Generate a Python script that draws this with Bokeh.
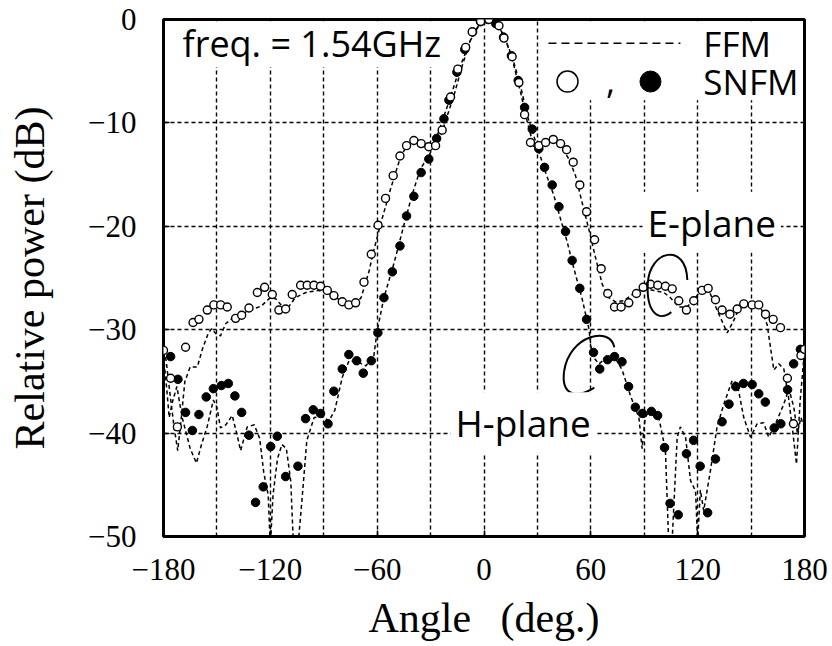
from bokeh.plotting import figure
from bokeh.models import Range1d, FixedTicker, Label
from bokeh.embed import file_html
from bokeh.resources import INLINE

# ---------------- data ----------------
x_tick_values = [-180, -120, -60, 0, 60, 120, 180]
x_tick_labels = ["\u2212180", "\u2212120", "\u221260", "0", "60", "120", "180"]
x_grid_values = [-150, -120, -90, -60, -30, 0, 30, 60, 90, 120, 150]
y_tick_values = [0, -10, -20, -30, -40, -50]
y_tick_labels = ["0", "\u221210", "\u221220", "\u221230", "\u221240", "\u221250"]
y_grid_values = [-10, -20, -30, -40]

# E-plane SNFM (open circles)
e_snfm_x = [-180, -176, -172.2, -167.6, -163.4, -160.1, -155.4, -151.7, -147.9, -144.2,
            -139.5, -136.1, -132, -127.3, -123.2, -118.9, -115.2, -111.4, -107.7, -103,
            -99.3, -95.5, -91.8, -88, -84.3, -79.6, -75.9, -72.1, -67.4, -63.3,
            -59.5, -55.3, -51, -47.2, -43.5, -39.4, -35.3, -31, -27.2, -23.5,
            -18.8, -14.7, -10.3, -6.6, -1.9, 2.75, 8.4, 11.2, 15.8, 19.6,
            22.8, 26.1, 30.8, 34.6, 38.9, 43, 46.4, 50.1, 53.8, 57.6,
            62.1, 65.8, 69.5, 73.3, 77, 81.3, 85.6, 89.4, 93.5, 97.6,
            101.9, 105.7, 109.4, 113.7, 117.8, 122.5, 125.9, 130, 133.7, 138.1,
            142.2, 145.9, 150.6, 154.3, 158.1, 162.4, 166.5, 170.4, 173.8, 178, 180]
e_snfm_y = [-32.0, -34.7, -39.4, -31.7, -29.3, -29.0, -28.1, -27.6, -27.6, -27.8,
            -28.9, -28.6, -27.9, -26.4, -25.9, -26.6, -28.1, -28.0, -26.6, -25.7,
            -25.7, -25.7, -25.8, -26.2, -26.7, -27.3, -27.6, -27.4, -25.4, -22.7,
            -19.9, -17.3, -15.1, -13.2, -12.2, -11.7, -12.0, -12.3, -12.2, -10.7,
            -7.5, -4.8, -2.7, -1.2, -0.2, 0.0, -0.6, -1.8, -3.6, -6.1,
            -9.2, -11.9, -12.2, -11.9, -11.6, -12.0, -12.6, -13.8, -16.0, -18.6,
            -21.3, -24.1, -26.5, -27.8, -27.8, -27.4, -26.5, -25.9, -25.6, -25.7,
            -25.8, -26.05, -27.2, -28.1, -27.2, -26.2, -26.0, -27.1, -28.1, -28.5,
            -28.0, -27.5, -27.6, -27.6, -28.5, -29.0, -29.8, -34.7, -39.1, -32.5, -31.9]

# H-plane SNFM (filled circles)
h_snfm_x = [-176, -171.9, -167.6, -163.8, -160.1, -156, -152, -147.5, -143.6, -139.9,
            -136.1, -132, -128.3, -124, -119.8, -116.1, -111.4, -104.5, -100.2, -95.9,
            -91.8, -87.6, -84.3, -79.6, -75.9, -71.5, -67.8, -63.3, -59.6, -56.2,
            -51.5, -47.2, -43.5, -39.4, -35.3, -31, -26.6, -22.5, -19.7, -15.2,
            -10.8, -6.4, -2, 2.2, 6.6, 11, 15.4, 19.2, 22.8, 27.1,
            30.8, 34, 38.3, 42.1, 45.8, 49.5, 53.8, 57.6, 61.5, 65,
            69.4, 73.3, 77.5, 81.2, 85, 89, 94, 97.5, 101.4, 104.5,
            109.1, 113.7, 117.7, 121.4, 125.6, 130, 133.7, 137.6, 141.4, 145.7,
            150.6, 154.3, 158, 163, 166.7, 170.5, 173.9, 177.7]
h_snfm_y = [-32.6, -34.8, -38.0, -39.75, -38.2, -36.5, -35.7, -35.4, -35.2, -36.4,
            -38.0, -40.2, -46.7, -45.2, -41.3, -40.3, -44.2, -43.2, -38.6, -37.75,
            -38.1, -39.1, -35.95, -33.8, -32.4, -33.0, -34.2, -33.0, -30.3, -26.9,
            -24.4, -21.9, -19.0, -17.1, -14.8, -13.5, -11.5, -9.6, -7.8, -5.1,
            -2.9, -1.2, -0.2, 0.0, -0.4, -1.7, -3.5, -5.9, -8.5, -10.6,
            -12.5, -14.3, -16.0, -18.1, -20.5, -23.3, -26.0, -29.0, -32.2, -33.8,
            -32.9, -32.6, -33.1, -35.5, -37.5, -38.1, -37.9, -38.3, -41.4, -46.8,
            -47.9, -42.0, -40.7, -43.2, -47.7, -42.5, -38.9, -37.2, -35.5, -35.2,
            -35.3, -36.2, -37.0, -39.5, -39.1, -35.8, -33.3, -31.9]

# E-plane FFM (dashed)
e_ffm_x = [-180, -178.5, -176.5, -174, -172, -170, -168, -165, -161, -158,
           -155, -153, -150.5, -148, -145, -142, -137, -131, -125, -120,
           -117, -114.5, -111, -106, -100, -93, -87.5, -80, -73.5, -69,
           -64.5, -62, -58.1, -52.5, -47.8, -43.1, -38.4, -33.8, -29.1, -25.3,
           -21.6, -16.9, -12.2, -7.6, -1.9, 1.8, 6.5, 11.2, 15.8, 20.5,
           24.3, 28, 32.7, 37.4, 43, 47.7, 51.4, 55.1, 58.9, 62.6,
           66.4, 70.1, 73.9, 78.5, 84.1, 89.8, 95.4, 101, 104.7, 109.4,
           114.1, 118.8, 122.5, 126.3, 130.9, 136.6, 140.3, 144, 149.7, 155.3,
           159, 162.8, 165.6, 168.4, 171, 173.5, 175.5, 177.5, 180]
e_ffm_y = [-32.0, -33.0, -36.0, -39.5, -41.7, -38.5, -35.0, -33.6, -33.6, -31.8,
           -30.4, -29.9, -30.4, -30.6, -29.4, -29.0, -28.5, -28.1, -27.7, -26.9,
           -27.0, -27.5, -28.1, -26.9, -26.4, -26.2, -26.5, -27.2, -27.7, -26.9,
           -24.3, -22.4, -19.8, -16.4, -13.8, -12.0, -11.5, -12.0, -12.5, -11.9,
           -9.8, -7.35, -4.45, -2.0, -0.25, 0.0, -0.25, -1.55, -3.8, -7.0,
           -9.9, -12.3, -12.0, -11.6, -12.2, -13.5, -15.1, -17.7, -20.3, -23.0,
           -25.6, -26.9, -27.3, -27.2, -26.5, -26.0, -26.2, -26.4, -26.9, -27.8,
           -27.8, -26.9, -26.0, -26.2, -28.1, -30.3, -29.1, -27.6, -27.3, -27.8,
           -29.5, -33.9, -33.3, -33.8, -36.5, -40.0, -43.0, -37.0, -32.0]

# H-plane FFM (dashed)
h_ffm_x = [-180, -178.3, -176.8, -175, -172.5, -169.5, -165, -161.5, -158.5, -155.5,
           -152, -150, -148, -145, -141.4, -138.5, -136.7, -133, -129, -126,
           -123.7, -121.2, -120, -118.5, -116, -113.5, -111, -108.5, -107, -104.5,
           -102.3, -99.5, -95.4, -91, -87, -83.8, -79.6, -75.8, -71, -66.5,
           -62, -60, -56.2, -50.6, -45, -40.3, -35.6, -30.9, -27.2, -24.4,
           -18.8, -13.2, -7.6, -1.9, 1.8, 6.5, 11.2, 15.8, 20.5, 24.3,
           29.9, 34.6, 39.2, 43, 46.7, 50.5, 55.1, 58.9, 60.7, 64.5,
           68.2, 72.9, 77.6, 82.3, 87, 88.8, 90.5, 93, 95.4, 98.2,
           101.9, 103.8, 105.5, 108.5, 110.3, 113.2, 116, 118.8, 120, 121.5,
           123.4, 127.2, 130.9, 134.7, 139.4, 142.2, 145.9, 149.7, 153.4, 157.1,
           159.9, 163.7, 168.4, 171.2, 174, 176, 178, 180]
h_ffm_y = [-32.5, -35.5, -38.5, -37.0, -35.5, -38.5, -41.5, -42.9, -41.0, -39.4,
           -36.8, -37.5, -39.5, -39.2, -38.3, -40.3, -41.7, -39.4, -39.2, -40.5,
           -43.8, -46.0, -51.0, -46.0, -42.5, -41.1, -41.5, -44.7, -51.0, -51.0,
           -46.6, -40.7, -38.5, -38.4, -38.8, -37.8, -34.6, -33.0, -33.1, -33.5,
           -32.7, -30.1, -26.9, -23.6, -19.9, -16.9, -14.4, -13.2, -11.7, -10.3,
           -7.5, -4.45, -2.0, -0.25, 0.0, -0.25, -1.55, -3.6, -6.4, -9.3,
           -12.3, -14.8, -17.0, -19.3, -21.5, -24.1, -27.0, -29.9, -32.5, -33.3,
           -32.8, -32.5, -33.9, -36.4, -38.5, -41.5, -38.5, -37.8, -37.7, -38.5,
           -41.7, -51.0, -51.0, -40.4, -39.4, -40.4, -44.6, -45.6, -50.5, -45.5,
           -47.5, -43.6, -39.4, -37.2, -34.9, -35.2, -38.5, -40.4, -39.1, -39.0,
           -40.4, -39.1, -37.2, -35.7, -37.5, -40.0, -38.5, -39.5]

# ---------------- figure ----------------
p = figure(width=832, height=646, x_range=Range1d(-180, 180), y_range=Range1d(-50, 0),
           output_backend="svg", toolbar_location=None,
           min_border_left=163, min_border_right=28, min_border_top=19, min_border_bottom=110)
p.background_fill_color = "white"
p.border_fill_color = "white"
p.outline_line_color = "black"
p.outline_line_width = 3

serif = "Liberation Serif"
for ax in (p.xaxis[0], p.yaxis[0]):
    ax.axis_line_color = None
    ax.major_tick_in = 6
    ax.major_tick_out = 0
    ax.major_tick_line_width = 1.5
    ax.minor_tick_line_color = None
    ax.major_label_text_font = serif
    ax.major_label_text_font_size = "31px"
    ax.major_label_text_color = "black"
    ax.axis_label_text_font = serif
    ax.axis_label_text_font_size = "42px"
    ax.axis_label_text_font_style = "normal"
    ax.axis_label_text_color = "black"

p.xaxis.ticker = FixedTicker(ticks=x_tick_values)
p.xaxis.major_label_overrides = {v: t for v, t in zip(x_tick_values, x_tick_labels)}
p.yaxis.ticker = FixedTicker(ticks=y_tick_values)
p.yaxis.major_label_overrides = {v: t for v, t in zip(y_tick_values, y_tick_labels)}
p.xaxis.axis_label = "Angle\u2002\u2009(deg.)"
p.yaxis.axis_label = "Relative power (dB)"
p.xaxis.major_label_standoff = 22
p.xaxis.axis_label_standoff = 12
p.yaxis.major_label_standoff = 27
p.yaxis.axis_label_standoff = 32

p.xgrid.ticker = FixedTicker(ticks=x_grid_values)
p.ygrid.ticker = FixedTicker(ticks=y_grid_values)
for g in (p.xgrid[0], p.ygrid[0]):
    g.grid_line_color = "black"
    g.grid_line_dash = "4 3"
    g.grid_line_width = 1.4

# white backgrounds behind the inset texts (kept inside the frame border)
p.quad(left=-179, right=-16, top=-0.2, bottom=-4.6, fill_color="white", line_color=None)
p.quad(left=34.5, right=179, top=-0.2, bottom=-7.8, fill_color="white", line_color=None)

# FFM lines
p.line(e_ffm_x, e_ffm_y, line_color="black", line_width=1.5, line_dash="4 3")
p.line(h_ffm_x, h_ffm_y, line_color="black", line_width=1.5, line_dash="4 3")

# SNFM markers
p.scatter(h_snfm_x, h_snfm_y, size=8.5, fill_color="black", line_color="black", line_width=1)
p.scatter(e_snfm_x, e_snfm_y, size=8, fill_color="white", line_color="black", line_width=1.4)

# hand-drawn brackets
p.bezier(x0=[114.2, 92], y0=[-25.2, -25.5], x1=[92, 105.2], y1=[-25.5, -28.3],
         cx0=[113.5, 91], cy0=[-21.5, -28.3], cx1=[93, 98], cy1=[-22.3, -29.3],
         line_color="black", line_width=2)
p.bezier(x0=[73.2, 45], y0=[-31.7, -34.0], x1=[45, 62], y1=[-34.0, -35.6],
         cx0=[71, 43], cy0=[-29.6, -36.5], cx1=[48, 53], cy1=[-30.5, -36.6],
         line_color="black", line_width=2)

# legend (custom)
sans = "Open Sans"
p.line([36.2, 110.3], [-2.3, -2.3], line_color="black", line_width=1.5, line_dash="8 5")
p.scatter([46.9], [-6.0], size=21, fill_color="white", line_color="black", line_width=1.5)
p.scatter([93.5], [-6.0], size=21, fill_color="black", line_color="black")
p.add_layout(Label(x=68.5, y=-6.0, text=",", text_font=sans, text_font_size="35px",
                   text_baseline="middle", text_color="black"))
p.add_layout(Label(x=123.2, y=-2.3, text="FFM", text_font=sans, text_font_size="35px",
                   text_baseline="middle", text_color="black"))
p.add_layout(Label(x=123.2, y=-6.0, text="SNFM", text_font=sans, text_font_size="35px",
                   text_baseline="middle", text_color="black"))
p.add_layout(Label(x=-169.3, y=-2.3, text="freq. = 1.54GHz", text_font=sans,
                   text_font_size="36px", text_baseline="middle", text_color="black"))
p.add_layout(Label(x=89.0, y=-19.6, text="E-plane", text_font=sans, text_font_size="37px",
                   text_baseline="middle", text_color="black",
                   background_fill_color="white", padding=5))
p.add_layout(Label(x=-18.8, y=-39.0, text="H-plane", text_font=sans, text_font_size="37px",
                   text_baseline="middle", text_color="black",
                   background_fill_color="white", padding=5))

open("out.html", "w").write(file_html(p, INLINE))
